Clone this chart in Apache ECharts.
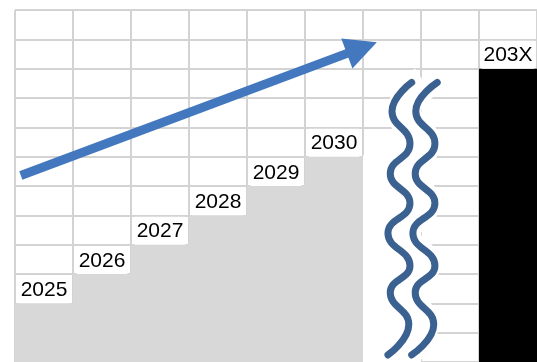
<!DOCTYPE html>
<html>
<head>
<meta charset="utf-8">
<script src="https://cdn.jsdelivr.net/npm/echarts@6/dist/echarts.min.js"></script>
<style>
  html, body { margin: 0; padding: 0; background: #fff; }
  #chart { width: 537px; height: 362px; }
</style>
</head>
<body>
<div id="chart"></div>
<script>
// categories (two empty columns hold the break mark)
const categories = ['2025', '2026', '2027', '2028', '2029', '2030', 'gap1', 'gap2', '203X'];
// staircase heights, in grid rows
const stepValues = [2, 3, 4, 5, 6, 7, null, null, null];
const futureValues = [null, null, null, null, null, null, null, null, 10];
// white patch behind the break mark
const breakMask = [null, null, null, null, null, null, 7.05, null, null];

// arrow, [column, row] on the hidden value axis
const arrowPath = [[0.10, 6.36], [5.98, 10.71]];

// the two wavy break lines
const waveLeft = [
  [6.84, 9.53], [6.50, 8.55], [6.81, 7.44], [6.47, 6.42], [6.81, 5.41],
  [6.43, 4.39], [6.81, 3.28], [6.47, 2.37], [6.79, 1.28], [6.43, 0.24]
];
const waveRight = [
  [7.28, 9.53], [6.91, 8.55], [7.24, 7.44], [6.90, 6.42], [7.24, 5.41],
  [6.86, 4.39], [7.24, 3.28], [6.90, 2.37], [7.22, 1.28], [6.84, 0.24]
];
const waveGap = [
  [7.06, 9.53], [6.71, 8.55], [7.03, 7.44], [6.69, 6.42], [7.03, 5.41],
  [6.65, 4.39], [7.03, 3.28], [6.69, 2.37], [7.01, 1.28], [6.64, 0.24]
];

const gridColor = '#d3d3d3';

const yearLabel = {
  show: true,
  position: 'top',
  distance: 0,
  formatter: '{b}',
  color: '#000',
  fontFamily: 'Liberation Sans, Arial, sans-serif',
  fontSize: 21,
  lineHeight: 22,
  backgroundColor: '#fff',
  padding: [4, 2, 2, 2]
};

const chart = echarts.init(document.getElementById('chart'));
chart.setOption({
  animation: false,
  backgroundColor: '#fff',
  grid: { left: 15, right: 0, top: 10, bottom: -3 },
  xAxis: [
    {
      type: 'category',
      data: categories,
      boundaryGap: true,
      axisLine: { show: false },
      axisTick: { show: false },
      axisLabel: { show: false, interval: 0 },
      splitLine: { show: true, interval: 0, lineStyle: { color: gridColor, width: 2 } }
    },
    { type: 'value', min: 0, max: 9, show: false }
  ],
  yAxis: {
    type: 'value',
    min: 0,
    max: 12,
    interval: 1,
    axisLine: { show: false },
    axisTick: { show: false },
    axisLabel: { show: false },
    splitLine: { show: true, lineStyle: { color: gridColor, width: 2 } }
  },
  series: [
    {
      type: 'bar',
      stack: 'cols',
      barWidth: '100%',
      data: stepValues,
      itemStyle: { color: '#d8d8d8' },
      label: yearLabel,
      silent: true
    },
    {
      type: 'bar',
      stack: 'cols',
      barWidth: '100%',
      data: breakMask,
      itemStyle: { color: '#fff' },
      silent: true
    },
    {
      type: 'bar',
      stack: 'cols',
      barWidth: '100%',
      data: futureValues,
      itemStyle: { color: '#000' },
      label: yearLabel,
      silent: true
    },
    {
      type: 'line',
      xAxisIndex: 1,
      data: waveGap,
      smooth: 0.5,
      symbol: 'none',
      lineStyle: { color: '#fff', width: 34 },
      silent: true,
      z: 3
    },
    {
      type: 'line',
      xAxisIndex: 1,
      data: waveLeft,
      smooth: 0.5,
      symbol: 'none',
      lineStyle: { color: '#3b6190', width: 7, cap: 'round' },
      silent: true,
      z: 4
    },
    {
      type: 'line',
      xAxisIndex: 1,
      data: waveRight,
      smooth: 0.5,
      symbol: 'none',
      lineStyle: { color: '#3b6190', width: 7, cap: 'round' },
      silent: true,
      z: 4
    },
    {
      type: 'lines',
      coordinateSystem: 'cartesian2d',
      xAxisIndex: 1,
      yAxisIndex: 0,
      symbol: ['none', 'triangle'],
      symbolSize: 32,
      lineStyle: { color: '#4378bf', width: 9, opacity: 1, curveness: 0 },
      data: [{ coords: arrowPath }],
      silent: true,
      z: 5
    }
  ]
});
</script>
</body>
</html>
